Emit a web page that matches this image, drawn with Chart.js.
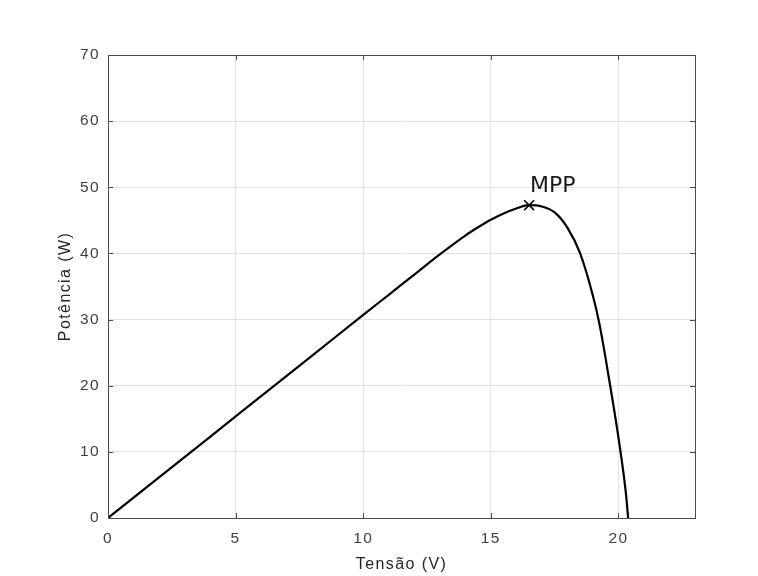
<!DOCTYPE html>
<html>
<head>
<meta charset="utf-8">
<script src="https://cdn.jsdelivr.net/npm/chart.js@4"></script>
<style>
html,body{margin:0;padding:0;background:#fff;}
#wrap{width:758px;height:576px;}
</style>
</head>
<body>
<div id="wrap"><canvas id="c" width="758" height="576"></canvas></div>
<script>
const voltage = [0, 2, 4, 6, 8, 10, 11, 12, 13, 14, 14.5, 15, 15.5, 16, 16.5, 17, 17.5, 18, 18.5, 19, 19.25, 19.5, 19.75, 20, 20.2, 20.3, 20.38];
const power   = [0, 6.14, 12.28, 18.42, 24.56, 30.7, 33.75, 36.8, 39.85, 42.7, 43.95, 45.1, 46.05, 46.8, 47.3, 47.1, 46.2, 43.9, 40.0, 33.6, 29.45, 24.1, 18.3, 12.2, 6.7, 3.45, 0];
const mppVoltage = [16.5];
const mppPower = [47.3];
const mppLabel = 'MPP';
const xTicks = [0, 5, 10, 15, 20];
const yTicks = [0, 10, 20, 30, 40, 50, 60, 70];
const xTitle = 'Tensão (V)';
const yTitle = 'Potência (W)';

const axisColor = '#4a4a4a';
const tickFont = {family: 'Liberation Sans', size: 15.5};
const titleFont = {family: 'Liberation Sans', size: 16};

const spacingPlugin = {
  id: 'spacing',
  beforeDraw(chart) { chart.ctx.letterSpacing = '1.4px'; }
};

const boxPlugin = {
  id: 'boxTicks',
  afterDatasetsDraw(chart) {
    const {ctx, chartArea: a, scales: {x, y}} = chart;
    ctx.save();
    ctx.strokeStyle = axisColor;
    ctx.lineWidth = 1;
    const tl = 5;
    ctx.beginPath();
    xTicks.forEach(v => {
      const px = Math.round(x.getPixelForValue(v)) + 0.5;
      ctx.moveTo(px, a.bottom); ctx.lineTo(px, a.bottom - tl);
      ctx.moveTo(px, a.top); ctx.lineTo(px, a.top + tl);
    });
    yTicks.forEach(v => {
      const py = Math.round(y.getPixelForValue(v)) + 0.5;
      ctx.moveTo(a.left, py); ctx.lineTo(a.left + tl, py);
      ctx.moveTo(a.right, py); ctx.lineTo(a.right - tl, py);
    });
    ctx.stroke();
    ctx.strokeRect(Math.round(a.left) + 0.5, Math.round(a.top) + 0.5, Math.round(a.right - a.left), Math.round(a.bottom - a.top));
    // MPP label
    const px = x.getPixelForValue(mppVoltage[0]);
    const py = y.getPixelForValue(mppPower[0]);
    ctx.letterSpacing = '0px';
    ctx.fillStyle = '#1a1a1a';
    ctx.font = '22px "DejaVu Sans"';
    ctx.textAlign = 'left';
    ctx.textBaseline = 'alphabetic';
    ctx.fillText(mppLabel, px + 1, py - 13);
    ctx.restore();
  }
};

new Chart(document.getElementById('c'), {
  type: 'scatter',
  data: {
    datasets: [
      {
        data: voltage.map((v, i) => ({x: v, y: power[i]})),
        showLine: true,
        borderColor: '#000',
        borderWidth: 2.2,
        pointRadius: 0,
        cubicInterpolationMode: 'monotone',
        fill: false,
        order: 2
      },
      {
        data: mppVoltage.map((v, i) => ({x: v, y: mppPower[i]})),
        showLine: false,
        pointStyle: 'crossRot',
        pointRadius: 7,
        borderColor: '#000',
        borderWidth: 1.6,
        backgroundColor: '#000',
        order: 1
      }
    ]
  },
  options: {
    responsive: false,
    animation: false,
    devicePixelRatio: 1,
    layout: {padding: {top: 55, right: 63, left: 0, bottom: 0}},
    plugins: {legend: {display: false}, tooltip: {enabled: false}},
    scales: {
      x: {
        type: 'linear',
        min: 0, max: 23,
        afterFit(s) { s.height = 58; },
        afterBuildTicks(s) { s.ticks = xTicks.map(v => ({value: v})); },
        ticks: {stepSize: 5, includeBounds: false, color: '#404040', font: tickFont, padding: 11, maxRotation: 0},
        grid: {color: '#e2e2e2', drawTicks: false, lineWidth: 1},
        border: {display: false},
        title: {display: true, text: xTitle, color: '#262626', font: titleFont, padding: {top: 0, bottom: 1.5}}
      },
      y: {
        type: 'linear',
        min: 0, max: 70,
        afterFit(s) { s.width = 108; },
        afterBuildTicks(s) { s.ticks = yTicks.map(v => ({value: v})); },
        ticks: {stepSize: 10, color: '#404040', font: tickFont, padding: 8},
        grid: {color: '#e2e2e2', drawTicks: false, lineWidth: 1},
        border: {display: false},
        title: {display: true, text: yTitle, color: '#262626', font: titleFont, padding: {top: 56, bottom: 0}}
      }
    }
  },
  plugins: [spacingPlugin, boxPlugin]
});
</script>
</body>
</html>
